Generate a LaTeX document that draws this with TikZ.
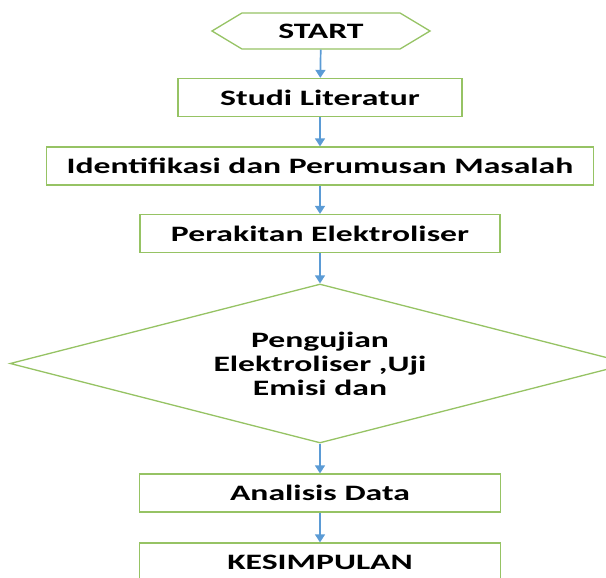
\documentclass[tikz,border=0pt]{standalone}
\usepackage{fontspec}
\setmainfont{Carlito}[FakeStretch=1.53]
\usepackage{xcolor}
\usepackage{tikz}
\usetikzlibrary{arrows.meta, shapes.geometric, shapes.symbols, positioning}
\definecolor{boxgreen}{RGB}{150,195,100}
\definecolor{arrowblue}{RGB}{91,155,213}
\tikzset{
    boxnode/.style = {draw=boxgreen, line width=1.3pt, rectangle, fill=white, inner sep=0em,
      node distance=0em, minimum height=38pt, font=\fontsize{22}{24}\selectfont\bfseries},
    startnode/.style = {boxnode, signal, signal to=west and east, signal pointer angle=62,
      minimum width=218pt, minimum height=36pt},
    decisionnode/.style = {boxnode, diamond, aspect=3.9, minimum width=620pt, minimum height=159pt,
      align=center},
    connect/.style = {arrowblue, line width=1.7pt, -{Triangle[length=8pt, width=10pt]}},
    every text node part/.style={align=center}
}
\begin{document}
\begin{tikzpicture}[x=1pt, y=1pt]
    \useasboundingbox (0,0) rectangle (606,-578);
    \clip (0,0) rectangle (606,-578);

    \node [startnode, name=Start] at (321,-31) {START};
    \node [boxnode, name=Studi, below of=Start, xshift=-1pt, yshift=-66.5pt, minimum width=284pt] {Studi Literatur};
    \node [boxnode, name=Identifikasi, below of=Studi, yshift=-68.5pt, minimum width=547pt] {Identifikasi dan Perumusan Masalah};
    \node [boxnode, name=Perakitan, below of=Identifikasi, yshift=-67.5pt, minimum width=360pt] {Perakitan Elektroliser};
    \node [decisionnode, name=Pengujian, below of=Perakitan, yshift=-130pt] {Pengujian\\Elektroliser ,Uji\\Emisi dan};
    \node [boxnode, name=Analisis, below of=Pengujian, yshift=-129.5pt, minimum width=361pt] {Analisis Data};
    \node [boxnode, name=Kesimpulan, below of=Analisis, yshift=-69pt, minimum width=361pt] {KESIMPULAN};

    \draw (Start) edge[connect] (Studi);
    \draw (Studi) edge[connect] (Identifikasi);
    \draw (Identifikasi) edge[connect] (Perakitan);
    \draw (Perakitan) edge[connect] (Pengujian);
    \draw (Pengujian) edge[connect] (Analisis);
    \draw (Analisis) edge[connect] (Kesimpulan);
\end{tikzpicture}
\end{document}
